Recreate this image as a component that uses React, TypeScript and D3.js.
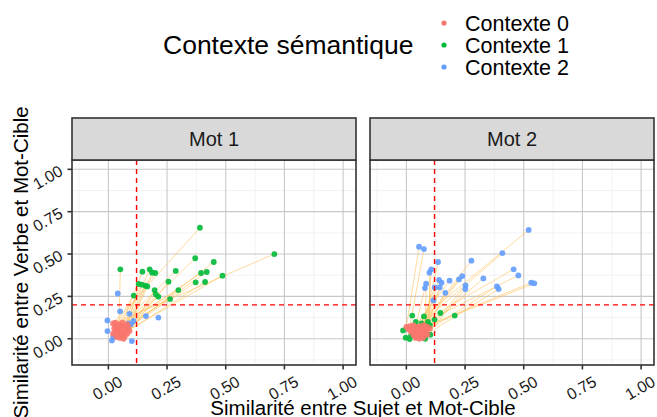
import React from 'react';
import * as d3 from 'd3';

const facets = ['Mot 1', 'Mot 2'];
const contextLabels = ['Contexte 0', 'Contexte 1', 'Contexte 2'];
const contextColors = ['#F8766D', '#00BA38', '#619CFF'];
const majorTicks = [0, 0.25, 0.5, 0.75, 1];
const minorTicks = [-0.125, 0.125, 0.375, 0.625, 0.875];
const tickLabels = ['0.00', '0.25', '0.50', '0.75', '1.00'];
const thresholdX = 0.12;
const thresholdY = 0.2;

// Mot 1 : segments Contexte 0 -> Contexte 1
const mot1Contexte0 = [
  [0.02, 0.09], [0.03, 0.095], [0.045, 0.085], [0.055, 0.08], [0.07, 0.075],
  [0.085, 0.07], [0.025, 0.06], [0.04, 0.065], [0.06, 0.06], [0.075, 0.05],
  [0.03, 0.045], [0.05, 0.04], [0.065, 0.035], [0.08, 0.03], [0.04, 0.025],
  [0.055, 0.02], [0.07, 0.015], [0.035, 0.01], [0.05, 0.005], [0.065, 0.0],
  [0.09, 0.045], [0.02, 0.03], [0.045, 0.055], [0.06, 0.095], [0.08, 0.085],
  [0.03, 0.075]
];
const mot1Contexte1 = [
  [0.39, 0.655], [0.707, 0.5], [0.051, 0.41], [0.145, 0.396], [0.176, 0.41],
  [0.186, 0.39], [0.2, 0.388], [0.287, 0.4], [0.37, 0.475], [0.449, 0.453],
  [0.395, 0.388], [0.419, 0.394], [0.486, 0.372], [0.256, 0.337], [0.372, 0.333],
  [0.412, 0.335], [0.129, 0.323], [0.143, 0.319], [0.158, 0.313], [0.166, 0.309],
  [0.197, 0.287], [0.202, 0.263], [0.213, 0.248], [0.298, 0.287], [0.263, 0.234],
  [0.108, 0.255]
];
const mot1Contexte2 = [
  [0.04, 0.267], [0.05, 0.162], [0.09, 0.147], [0.16, 0.134], [0.213, 0.125],
  [-0.004, 0.108], [-0.004, 0.045], [0.015, -0.01], [0.1, -0.014], [0.096, 0.085],
  [0.107, 0.105], [0.021, 0.012], [0.085, 0.09]
];

// Mot 2 : segments Contexte 0 -> Contexte 2
const mot2Contexte0 = [
  [0.0, 0.07], [0.015, 0.075], [0.03, 0.08], [0.045, 0.07], [0.06, 0.075],
  [0.075, 0.08], [0.09, 0.07], [0.1, 0.06], [0.01, 0.055], [0.025, 0.06],
  [0.04, 0.05], [0.055, 0.055], [0.07, 0.06], [0.085, 0.05], [0.02, 0.04],
  [0.035, 0.035], [0.05, 0.03], [0.065, 0.04], [0.08, 0.035], [0.03, 0.02],
  [0.045, 0.015], [0.06, 0.02], [0.075, 0.015], [0.09, 0.025], [0.04, 0.005],
  [0.055, 0.0], [0.07, 0.005], [0.05, 0.065]
];
const mot2Contexte1 = [
  [0.025, 0.137], [0.075, 0.132], [0.145, 0.152], [0.206, 0.137], [0.12, 0.113],
  [0.092, 0.099], [-0.014, 0.049], [-0.003, 0.006], [0.014, -0.002], [0.102, 0.024],
  [0.04, 0.1], [0.065, 0.09], [0.02, 0.02], [0.1, 0.08], [0.08, 0.0]
];
const mot2Contexte2 = [
  [0.054, 0.543], [0.075, 0.529], [0.521, 0.642], [0.409, 0.505], [0.277, 0.461],
  [0.135, 0.453], [0.106, 0.41], [0.098, 0.39], [0.457, 0.41], [0.477, 0.374],
  [0.532, 0.331], [0.545, 0.327], [0.139, 0.347], [0.15, 0.331], [0.184, 0.343],
  [0.224, 0.35], [0.238, 0.37], [0.328, 0.356], [0.084, 0.325], [0.079, 0.299],
  [0.121, 0.303], [0.142, 0.303], [0.252, 0.315], [0.251, 0.293], [0.386, 0.309],
  [0.393, 0.293], [0.166, 0.271], [0.115, 0.226]
];

const panels = [
  { from: mot1Contexte0, to: mot1Contexte1, ctx: [mot1Contexte0, mot1Contexte1, mot1Contexte2] },
  { from: mot2Contexte0, to: mot2Contexte2, ctx: [mot2Contexte0, mot2Contexte1, mot2Contexte2] }
];

const font = '"Liberation Sans", Arial, Helvetica, sans-serif';
const panelLeft = [72, 370];
const panelWidth = 284;
const panelTop = 160;
const panelBottom = 365;
const stripTop = 118;
const domain = [-0.155, 1.055];
const drawOrder = [2, 1, 0];

function Panel({ index }) {
  const left = panelLeft[index];
  const x = d3.scaleLinear().domain(domain).range([left, left + panelWidth]);
  const y = d3.scaleLinear().domain(domain).range([panelBottom, panelTop]);
  const p = panels[index];

  return (
    <g>
      <rect x={left} y={panelTop} width={panelWidth} height={panelBottom - panelTop} fill="#fff" />
      {minorTicks.map((t) => (
        <g key={'mn' + t}>
          <line x1={x(t)} x2={x(t)} y1={panelTop} y2={panelBottom} stroke="#ebebeb" strokeWidth={0.6} />
          <line x1={left} x2={left + panelWidth} y1={y(t)} y2={y(t)} stroke="#ebebeb" strokeWidth={0.6} />
        </g>
      ))}
      {majorTicks.map((t) => (
        <g key={'mj' + t}>
          <line x1={x(t)} x2={x(t)} y1={panelTop} y2={panelBottom} stroke="#c8c8c8" strokeWidth={1.1} />
          <line x1={left} x2={left + panelWidth} y1={y(t)} y2={y(t)} stroke="#c8c8c8" strokeWidth={1.1} />
        </g>
      ))}
      {p.from.map((d, i) => (
        <line key={'s' + i} x1={x(d[0])} y1={y(d[1])} x2={x(p.to[i][0])} y2={y(p.to[i][1])}
          stroke="#FFC15C" strokeOpacity={0.6} strokeWidth={1} />
      ))}
      {drawOrder.map((c) => (
        <g key={'c' + c}>
          {p.ctx[c].map((d, i) => (
            <circle key={i} cx={x(d[0])} cy={y(d[1])} r={2.9} fill={contextColors[c]} fillOpacity={0.9} />
          ))}
        </g>
      ))}
      <line x1={x(thresholdX)} x2={x(thresholdX)} y1={panelTop} y2={panelBottom}
        stroke="#FF0000" strokeWidth={1.4} strokeDasharray="5,4" />
      <line x1={left} x2={left + panelWidth} y1={y(thresholdY)} y2={y(thresholdY)}
        stroke="#FF0000" strokeWidth={1.4} strokeDasharray="5,4" />
      <rect x={left} y={panelTop} width={panelWidth} height={panelBottom - panelTop}
        fill="none" stroke="#333" strokeWidth={1.6} />
      <rect x={left} y={stripTop} width={panelWidth} height={panelTop - stripTop}
        fill="#D9D9D9" stroke="#333" strokeWidth={1.6} />
      <text x={left + panelWidth / 2} y={(stripTop + panelTop) / 2} textAnchor="middle"
        dominantBaseline="central" fontSize={20} fill="#1a1a1a">{facets[index]}</text>
      {majorTicks.map((t, i) => (
        <g key={'xt' + t}>
          <line x1={x(t)} x2={x(t)} y1={panelBottom} y2={panelBottom + 4.5} stroke="#333" strokeWidth={1.6} />
          <text transform={`translate(${x(t) - 1},${panelBottom + 23}) rotate(-30)`} textAnchor="middle"
            dominantBaseline="central" fontSize={16} fill="#1a1a1a">{tickLabels[i]}</text>
        </g>
      ))}
      {index === 0 && majorTicks.map((t, i) => (
        <g key={'yt' + t}>
          <line x1={left - 4.5} x2={left} y1={y(t)} y2={y(t)} stroke="#333" strokeWidth={1.6} />
          <text transform={`translate(${left - 8},${y(t) + 5}) rotate(-30)`} textAnchor="end"
            fontSize={16} fill="#1a1a1a">{tickLabels[i]}</text>
        </g>
      ))}
    </g>
  );
}

export default function App() {
  const legendY = d3.scaleLinear().domain([0, 1]).range([31, 53]);
  return (
    <svg width={657} height={417} style={{ position: 'absolute', left: 0, top: 0, fontFamily: font }}>
      <rect width={657} height={417} fill="#fff" />
      <text x={163} y={54} fontSize={26.5} fill="#000">Contexte sémantique</text>
      {contextLabels.map((l, i) => (
        <g key={l}>
          <circle cx={444} cy={legendY(i) - 8} r={2.6} fill={contextColors[i]} />
          <text x={465} y={legendY(i)} fontSize={21.5} fill="#000">{l}</text>
        </g>
      ))}
      {facets.map((f, i) => <Panel key={f} index={i} />)}
      <text x={(panelLeft[0] + panelLeft[1] + panelWidth) / 2} y={415} textAnchor="middle"
        fontSize={20.5} fill="#000">Similarité entre Sujet et Mot-Cible</text>
      <text transform={`translate(28,${(panelTop + panelBottom) / 2}) rotate(-90)`} textAnchor="middle"
        fontSize={20.5} fill="#000">Similarité entre Verbe et Mot-Cible</text>
    </svg>
  );
}
